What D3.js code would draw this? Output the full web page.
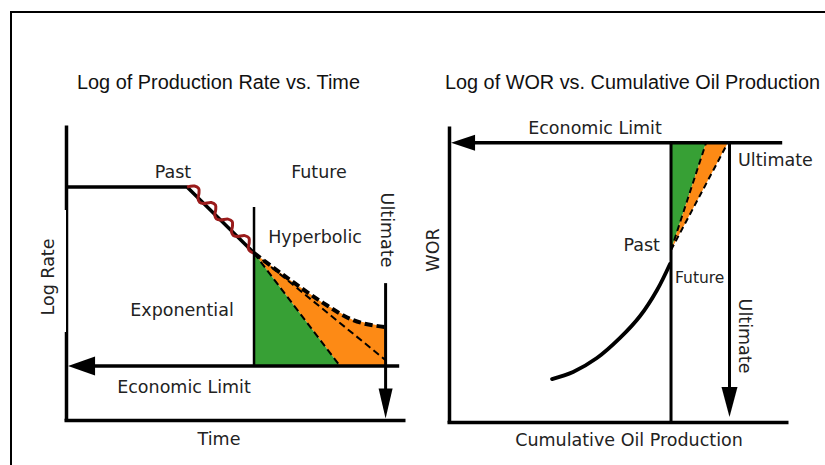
<!DOCTYPE html>
<html>
<head>
<meta charset="utf-8">
<script src="https://cdn.jsdelivr.net/npm/d3@7"></script>
<style>
  html, body { margin: 0; padding: 0; background: #fff; }
  svg { display: block; }
  .lbl { font-family: 'DejaVu Sans', Verdana, sans-serif; font-size: 17.5px; fill: #222; }
  .title { font-family: 'Liberation Sans', Arial, sans-serif; font-size: 20px; fill: #111; }
</style>
</head>
<body>
<svg width="825" height="465"></svg>
<script>
// ---- left panel: log rate vs time (schematic units, 0-10 on both axes)
const plateau = [[0, 7.9], [3.56, 7.9]];
const decline = [[3.56, 7.9], [5.53, 5.66]];
// red "history" squiggle: [fraction along decline, offset across it in rate units]
const wiggle = [
  [0, 0], [0.05, 0.2], [0.1, 0.24], [0.14, 0.12], [0.17, -0.02], [0.21, -0.07],
  [0.25, 0], [0.3, 0.2], [0.35, 0.24], [0.39, 0.12], [0.42, -0.02], [0.46, -0.07],
  [0.5, 0], [0.55, 0.2], [0.6, 0.24], [0.64, 0.12], [0.67, -0.02], [0.71, -0.07],
  [0.75, 0], [0.8, 0.2], [0.85, 0.24], [0.89, 0.12], [0.92, -0.02], [0.96, -0.05],
  [1, 0]
];
const hyperbolic = [[5.53, 5.66], [6.59, 4.75], [7.56, 3.97], [8.44, 3.39], [9.4, 3.15]];
const harmonic = [[5.53, 5.66], [9.4, 2.03]];
const exponential = [[5.53, 5.66], [8.06, 1.83]];
const rateLimit = 1.83;
const nowTime = 5.53;
const nowTop = 7.22;
const ultimateTime = 9.4;
const ultimateTop = 4.64;

// ---- right panel: log WOR vs cumulative oil
const worCurve = [[3.03, 1.45], [3.65, 1.69], [4.35, 2.16], [5.03, 2.84], [5.62, 3.58], [6.12, 4.46], [6.5, 5.34]];
const worPast = [6.53, 5.81];
const worLimit = 9.43;
const cumNow = 6.53;
const cumUltimate = 8.25;
const greenEdge = 7.56;
const orangeEdge = 8.2;

const titles = ['Log of Production Rate vs. Time', 'Log of WOR vs. Cumulative Oil Production'];

const GREEN = '#37a035', ORANGE = '#fd8a15', RED = '#9a1b1b';

const svg = d3.select('svg');

const xL = d3.scaleLinear().domain([0, 10]).range([66, 406]);
const yL = d3.scaleLinear().domain([0, 10]).range([420, 125]);
const xR = d3.scaleLinear().domain([0, 10]).range([449, 789]);
const yR = d3.scaleLinear().domain([0, 10]).range([422, 126]);

const lineOf = (x, y) => d3.line().x(d => x(d[0])).y(d => y(d[1]));

function arrowHead(g, tip, dir, len, half) {
    const bx = tip[0] - dir[0] * len, by = tip[1] - dir[1] * len;
    const nx = -dir[1], ny = dir[0];
    g.append('path')
        .attr('d', `M${tip[0]},${tip[1]}L${bx + nx * half},${by + ny * half}L${bx - nx * half},${by - ny * half}Z`)
        .attr('fill', '#000');
}

function label(g, text, x, y, opts = {}) {
    const t = g.append('text')
        .attr('class', 'lbl')
        .attr('text-anchor', opts.anchor || 'middle')
        .attr('dy', '0.36em')
        .text(text);
    if (opts.size) t.style('font-size', opts.size + 'px');
    t.attr('transform', `translate(${x},${y})` + (opts.rotate ? ` rotate(${opts.rotate})` : ''));
    return t;
}

// outer frame (top + left edges visible)
svg.append('path').attr('d', 'M11,470V12H830').attr('fill', 'none').attr('stroke', '#000').attr('stroke-width', 2);

// titles
svg.append('text').attr('class', 'title').attr('x', 77).attr('y', 89)
    .attr('textLength', 283).attr('lengthAdjust', 'spacingAndGlyphs').text(titles[0]);
svg.append('text').attr('class', 'title').attr('x', 445).attr('y', 89)
    .attr('textLength', 375).attr('lengthAdjust', 'spacingAndGlyphs').text(titles[1]);

// ================= left panel =================
const gl = svg.append('g');
const lineL = lineOf(xL, yL);

const orangePoly = hyperbolic.concat([[ultimateTime, rateLimit], exponential[1], exponential[0]]);
gl.append('path').attr('d', lineL(orangePoly) + 'Z').attr('fill', ORANGE);
gl.append('path').attr('d', lineL([exponential[0], [nowTime, rateLimit], exponential[1]]) + 'Z').attr('fill', GREEN);

gl.append('path').attr('d', lineL(exponential)).attr('fill', 'none').attr('stroke', '#000')
    .attr('stroke-width', 2).attr('stroke-dasharray', '7,4');
gl.append('path').attr('d', lineL(harmonic)).attr('fill', 'none').attr('stroke', '#000')
    .attr('stroke-width', 2).attr('stroke-dasharray', '7,4');
gl.append('path').attr('d', lineOf(xL, yL).curve(d3.curveMonotoneX)(hyperbolic)).attr('fill', 'none').attr('stroke', '#000')
    .attr('stroke-width', 4).attr('stroke-dasharray', '8,4');

// axes
gl.append('g').attr('transform', `translate(${xL(0)},0)`)
    .call(d3.axisLeft(yL).tickValues([]).tickSizeOuter(0))
    .select('.domain').attr('stroke-width', 3.5);
gl.append('g').attr('transform', `translate(0,${yL(0)})`)
    .call(d3.axisBottom(xL).tickValues([]).tickSizeOuter(0).scale(xL.copy().range([xL(0) - 2, xL(0) + 339])))
    .select('.domain').attr('stroke-width', 3.5);

// plateau + decline
gl.append('path').attr('d', lineL(plateau.concat([decline[1]]))).attr('fill', 'none')
    .attr('stroke', '#000').attr('stroke-width', 3.5).attr('stroke-linejoin', 'round');

// squiggle along the decline
const A = [xL(decline[0][0]), yL(decline[0][1])], B = [xL(decline[1][0]), yL(decline[1][1])];
const len = Math.hypot(B[0] - A[0], B[1] - A[1]);
const dir = [(B[0] - A[0]) / len, (B[1] - A[1]) / len];
const nrm = [dir[1], -dir[0]];
const unit = yL(0) - yL(1);
const wigglePts = wiggle.map(([f, o]) => [
    A[0] + (B[0] - A[0]) * f + nrm[0] * o * unit,
    A[1] + (B[1] - A[1]) * f + nrm[1] * o * unit
]);
gl.append('path').attr('d', d3.line().curve(d3.curveCatmullRom)(wigglePts)).attr('fill', 'none')
    .attr('stroke', RED).attr('stroke-width', 3);

// present-time line
gl.append('path').attr('d', lineL([[nowTime, nowTop], [nowTime, rateLimit]])).attr('stroke', '#000').attr('stroke-width', 2.5);

// economic limit
gl.append('path').attr('d', lineL([[0.5, rateLimit], [9.8, rateLimit]])).attr('stroke', '#000').attr('stroke-width', 3.5);
arrowHead(gl, [xL(0.06), yL(rateLimit)], [-1, 0], 27, 9.5);

// ultimate
gl.append('path').attr('d', lineL([[ultimateTime, ultimateTop], [ultimateTime, 0.5]])).attr('stroke', '#000').attr('stroke-width', 3);
arrowHead(gl, [xL(ultimateTime), yL(0.05)], [0, 1], 30, 7);

// label box over the axis
gl.append('rect').attr('x', 20).attr('y', 210).attr('width', 46).attr('height', 122).attr('fill', '#fff');
label(gl, 'Log Rate', 48, 277, { rotate: -90 });
label(gl, 'Past', 173, 172);
label(gl, 'Future', 319, 172);
label(gl, 'Hyperbolic', 315, 237);
label(gl, 'Exponential', 182, 310);
label(gl, 'Economic Limit', 184, 387);
label(gl, 'Time', 219, 439);
label(gl, 'Ultimate', 387, 230, { rotate: 90 });

// ================= right panel =================
const gr = svg.append('g');
const lineR = lineOf(xR, yR);

gr.append('path').attr('d', lineR([[cumNow, worLimit], worPast, [greenEdge, worLimit]]) + 'Z').attr('fill', GREEN);
gr.append('path').attr('d', lineR([[greenEdge, worLimit], worPast, [orangeEdge, worLimit]]) + 'Z').attr('fill', ORANGE);
gr.append('path').attr('d', lineR([worPast, [greenEdge, worLimit]])).attr('stroke', '#000')
    .attr('stroke-width', 2).attr('stroke-dasharray', '6,4');
gr.append('path').attr('d', lineR([worPast, [orangeEdge, worLimit]])).attr('stroke', '#000')
    .attr('stroke-width', 2).attr('stroke-dasharray', '6,4');

gr.append('g').attr('transform', `translate(${xR(0)},0)`)
    .call(d3.axisLeft(yR).tickValues([]).tickSizeOuter(0))
    .select('.domain').attr('stroke-width', 3.5);
gr.append('g').attr('transform', `translate(0,${yR(0)})`)
    .call(d3.axisBottom(xR).tickValues([]).tickSizeOuter(0).scale(xR.copy().range([xR(0) - 2, xR(0) + 339])))
    .select('.domain').attr('stroke-width', 3.5);

gr.append('path').attr('d', lineR([[0.5, worLimit], [9.8, worLimit]])).attr('stroke', '#000').attr('stroke-width', 3.5);
arrowHead(gr, [xR(0.06), yR(worLimit)], [-1, 0], 24, 8);

gr.append('path').attr('d', lineR([[cumNow, worLimit], [cumNow, 0]])).attr('stroke', '#000').attr('stroke-width', 3);
gr.append('path').attr('d', lineR([[cumUltimate, worLimit], [cumUltimate, 0.6]])).attr('stroke', '#000').attr('stroke-width', 3);
arrowHead(gr, [xR(cumUltimate), yR(0.17)], [0, 1], 30, 8);

gr.append('path').attr('d', lineR.curve(d3.curveCatmullRom)(worCurve)).attr('fill', 'none')
    .attr('stroke', '#000').attr('stroke-width', 3.8).attr('stroke-linecap', 'round');

label(gr, 'Economic Limit', 595, 128);
label(gr, 'Ultimate', 738, 160, { anchor: 'start' });
label(gr, 'Past', 660, 245, { anchor: 'end' });
label(gr, 'Future', 675, 277, { anchor: 'start', size: 15.5 });
label(gr, 'Ultimate', 745, 336, { rotate: 90 });
label(gr, 'WOR', 433, 250, { rotate: -90 });
label(gr, 'Cumulative Oil Production', 629, 440);
</script>
</body>
</html>
